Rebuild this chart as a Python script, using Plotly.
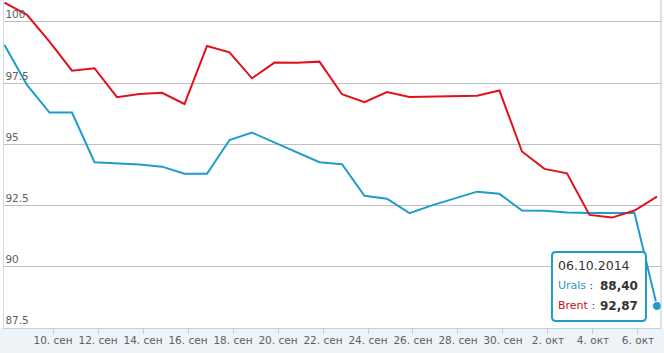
import pandas as pd
import plotly.graph_objects as go

# ---- data ----
dates = pd.date_range("2014-09-07", "2014-10-06", freq="D")
urals = [99.06, 97.43, 96.30, 96.30, 94.27, 94.22, 94.18, 94.09, 93.80, 93.80,
         95.18, 95.48, 95.08, 94.67, 94.27, 94.19, 92.90, 92.78, 92.19, 92.51,
         92.79, 93.07, 92.98, 92.30, 92.29, 92.22, 92.20, 92.20, 92.20, 88.40]
brent = [100.79, 100.29, 99.20, 98.01, 98.11, 96.93, 97.06, 97.11, 96.65, 99.02,
         98.76, 97.70, 98.34, 98.33, 98.38, 97.05, 96.72, 97.14, 96.94, 96.95,
         96.99, 96.99, 97.20, 94.71, 94.00, 93.82, 92.12, 92.01, 92.30, 92.87]
tick_dates = pd.date_range("2014-09-08", "2014-10-06", freq="2D")
tick_labels = [""] + [f"{d.day}. {'сен' if d.month == 9 else 'окт'}" for d in tick_dates[1:]]
y_ticks = [87.5, 90, 92.5, 95, 97.5, 100]
y_labels = ["87.5", "90", "92.5", "95", "97.5", "100"]
hover_date = "06.10.2014"
urals_txt = "88,40"
brent_txt = "92,87"

BLUE = "#1f9ccb"
RED = "#e3101b"
FONT = "DejaVu Sans"

tick_offset = pd.Timedelta(hours=20.25)

fig = go.Figure()
fig.add_trace(go.Scatter(x=dates, y=urals, mode="lines", name="Urals",
                         line=dict(color=BLUE, width=2)))
fig.add_trace(go.Scatter(x=dates, y=brent, mode="lines", name="Brent",
                         line=dict(color=RED, width=2)))
fig.add_trace(go.Scatter(x=[dates[-1]], y=[urals[-1]], mode="markers",
                         marker=dict(color=BLUE, size=9, line=dict(color="white", width=1)),
                         showlegend=False))

x0 = dates[0] - pd.Timedelta(hours=0.53)
x1 = dates[-1] + pd.Timedelta(hours=4.3)

fig.update_layout(
    width=664, height=353,
    margin=dict(l=4, r=3, t=0, b=25),
    paper_bgcolor="white", plot_bgcolor="white",
    showlegend=False, hovermode=False,
    font=dict(family=FONT, color="#606060"),
    xaxis=dict(
        type="date", range=[x0, x1],
        tickvals=[d - tick_offset for d in tick_dates], ticktext=tick_labels,
        ticks="outside", ticklen=5, tickcolor="#C0D0E0", tickwidth=1,
        ticklabelstandoff=-3,
        showgrid=False, zeroline=False,
        showline=True, linecolor="#C0D0E0", linewidth=1,
        tickfont=dict(family=FONT, size=10.5, color="#606060"),
    ),
    yaxis=dict(
        range=[87.5, 100.898],
        tickvals=y_ticks, ticktext=y_labels,
        ticklabelposition="inside top",
        showgrid=True, gridcolor="#C0C0C0", gridwidth=1,
        zeroline=False, ticks="",
        showline=True, linecolor="#D0DCE8", linewidth=1,
        tickfont=dict(family=FONT, size=10.5, color="#606060"),
    ),
)

# light strip under the x axis
fig.add_shape(type="rect", xref="paper", yref="paper", x0=-0.05, x1=1.05, y0=-0.2, y1=0,
              fillcolor="#eef3f8", line=dict(width=0), layer="below")
# right plot border
fig.add_shape(type="line", xref="paper", yref="paper", x0=1, x1=1, y0=0, y1=1,
              line=dict(color="#C0C0C0", width=1))

# tooltip box (rounded) anchored at the hovered point
L, R, B, T, r = -105, -11, -15, 54, 4
path = (f"M{L+r},{T} L{R-r},{T} Q{R},{T} {R},{T-r} L{R},{B+r} Q{R},{B} {R-r},{B} "
        f"L{L+r},{B} Q{L},{B} {L},{B+r} L{L},{T-r} Q{L},{T} {L+r},{T} Z")
fig.add_shape(type="path", xref="x", yref="y", xsizemode="pixel", ysizemode="pixel",
              xanchor=dates[-1], yanchor=urals[-1], path=path,
              fillcolor="white", line=dict(color=BLUE, width=2), layer="above")

def ann(text, xs, ys, xanchor, size, color, bold=False):
    fig.add_annotation(x=dates[-1], y=urals[-1], xref="x", yref="y", text=(f"<b>{text}</b>" if bold else text),
                       showarrow=False, xanchor=xanchor, yanchor="middle",
                       xshift=xs, yshift=ys,
                       font=dict(family=FONT, size=size, color=color))

ann(hover_date, -101, 40, "left", 12.5, "#333333")
ann(f"<span style='color:{BLUE}'>Urals</span> :", -101, 20, "left", 11, "#333333")
ann(f"<span style='color:#c8101b'>Brent</span> :", -101, 0, "left", 11, "#333333")
ann(urals_txt, -17, 20, "right", 12, "#333333", bold=True)
ann(brent_txt, -17, 0, "right", 12, "#333333", bold=True)

fig.write_html("out.html")
